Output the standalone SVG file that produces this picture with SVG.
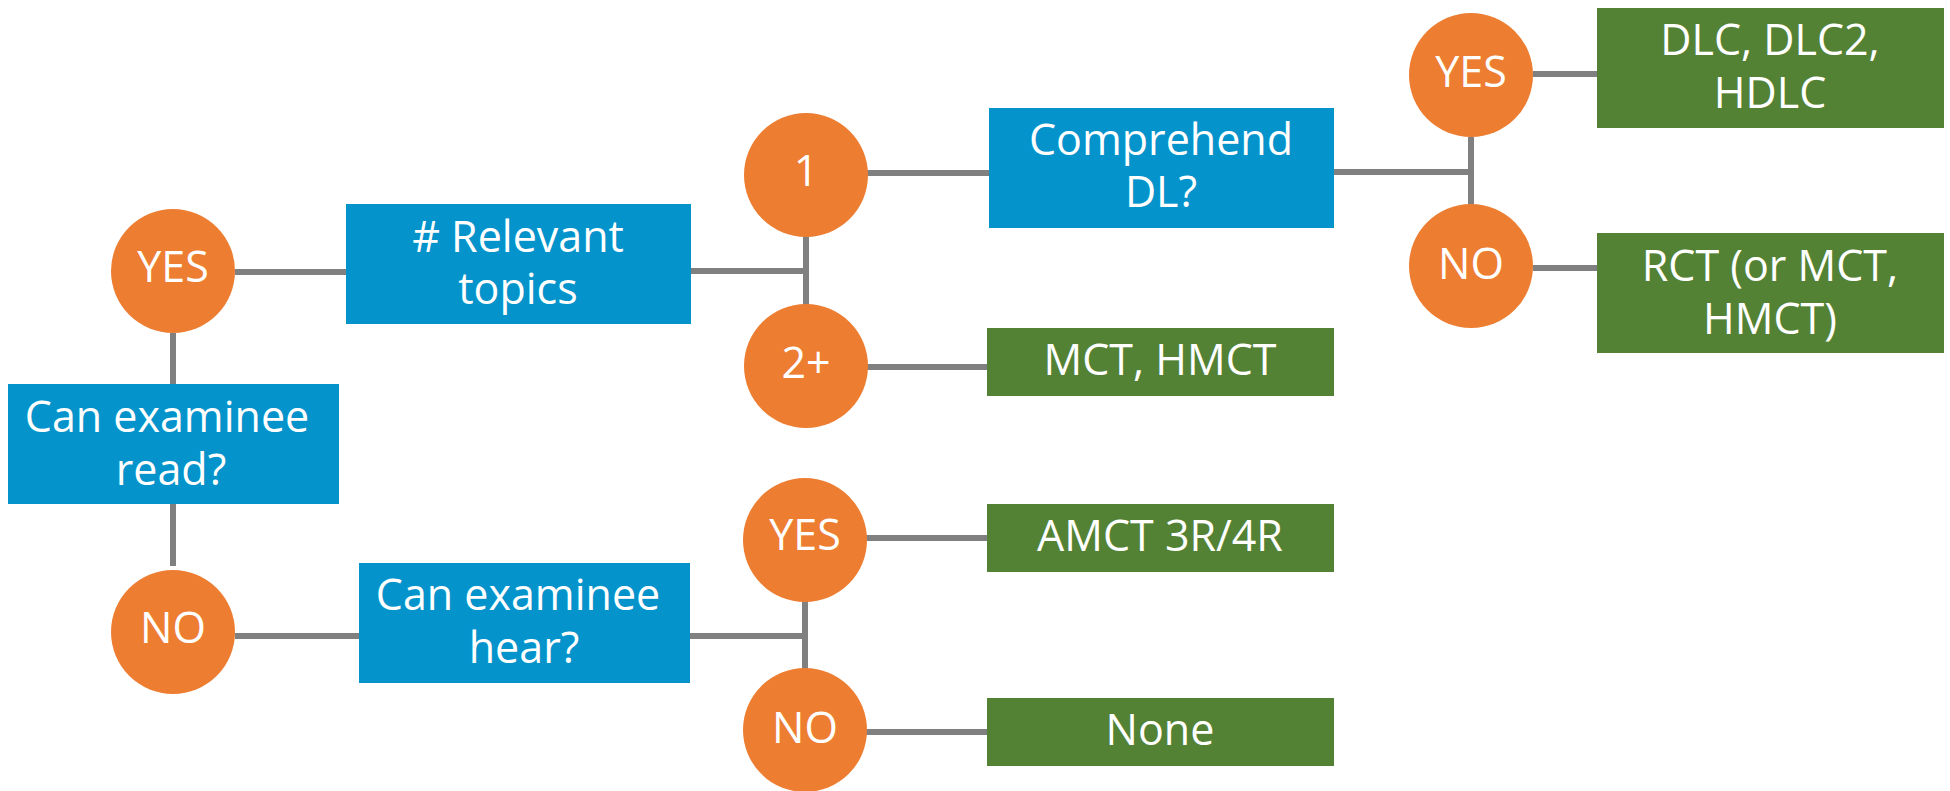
<svg xmlns="http://www.w3.org/2000/svg" width="1950" height="791" viewBox="0 0 1950 791">
<style>
.c{fill:#ED7D31}
.b{fill:#0493CB}
.g{fill:#548235}
.t{font-family:"Open Sans","Noto Sans",sans-serif;font-size:43px;fill:#fff;text-anchor:middle}
.l{stroke:#808080;stroke-width:6;fill:none}
</style>
<rect width="1950" height="791" fill="#fff"/>
<g id="connectors" class="l">
<path d="M173 333V384"/>
<path d="M173 504V566"/>
<path d="M235 272H346"/>
<path d="M235 636H359"/>
<path d="M691 271H806M806 236V305"/>
<path d="M867 173H989"/>
<path d="M867 367H987"/>
<path d="M690 636H805M805 601V669"/>
<path d="M866 538H987"/>
<path d="M866 732H987"/>
<path d="M1334 172H1471M1471 137V205"/>
<path d="M1533 74H1597"/>
<path d="M1533 268H1597"/>
</g>
<g id="n-read"><rect class="b" x="8" y="384" width="331" height="120"/><text class="t" x="167" y="432">Can examinee</text><text class="t" x="171" y="485">read?</text></g>
<g id="n-yes1"><circle class="c" cx="173" cy="271" r="62"/><text class="t" x="173" y="282">YES</text></g>
<g id="n-no1"><circle class="c" cx="173" cy="632" r="62"/><text class="t" x="173" y="643">NO</text></g>
<g id="n-topics"><rect class="b" x="346" y="204" width="345" height="120"/><text class="t" x="518" y="252"># Relevant</text><text class="t" x="518" y="304">topics</text></g>
<g id="n-hear"><rect class="b" x="359" y="563" width="331" height="120"/><text class="t" x="518" y="610">Can examinee</text><text class="t" x="524" y="663">hear?</text></g>
<g id="n-1"><circle class="c" cx="806" cy="175" r="62"/><text class="t" x="806" y="186">1</text></g>
<g id="n-2"><circle class="c" cx="806" cy="366" r="62"/><text class="t" x="806" y="378">2+</text></g>
<g id="n-yes2"><circle class="c" cx="805" cy="540" r="62"/><text class="t" x="805" y="550">YES</text></g>
<g id="n-no2"><circle class="c" cx="805" cy="730" r="62"/><text class="t" x="805" y="743">NO</text></g>
<g id="n-comp"><rect class="b" x="989" y="108" width="345" height="120"/><text class="t" x="1161" y="155">Comprehend</text><text class="t" x="1161" y="207">DL?</text></g>
<g id="n-mct"><rect class="g" x="987" y="328" width="347" height="68"/><text class="t" x="1160" y="375">MCT, HMCT</text></g>
<g id="n-amct"><rect class="g" x="987" y="504" width="347" height="68"/><text class="t" x="1160" y="551">AMCT 3R/4R</text></g>
<g id="n-none"><rect class="g" x="987" y="698" width="347" height="68"/><text class="t" x="1160" y="745">None</text></g>
<g id="n-yes3"><circle class="c" cx="1471" cy="75" r="62"/><text class="t" x="1471" y="87">YES</text></g>
<g id="n-no3"><circle class="c" cx="1471" cy="266" r="62"/><text class="t" x="1471" y="279">NO</text></g>
<g id="n-dlc"><rect class="g" x="1597" y="8" width="347" height="120"/><text class="t" x="1770" y="55">DLC, DLC2,</text><text class="t" x="1770" y="108">HDLC</text></g>
<g id="n-rct"><rect class="g" x="1597" y="233" width="347" height="120"/><text class="t" x="1770" y="281">RCT (or MCT,</text><text class="t" x="1770" y="334">HMCT)</text></g>
</svg>
